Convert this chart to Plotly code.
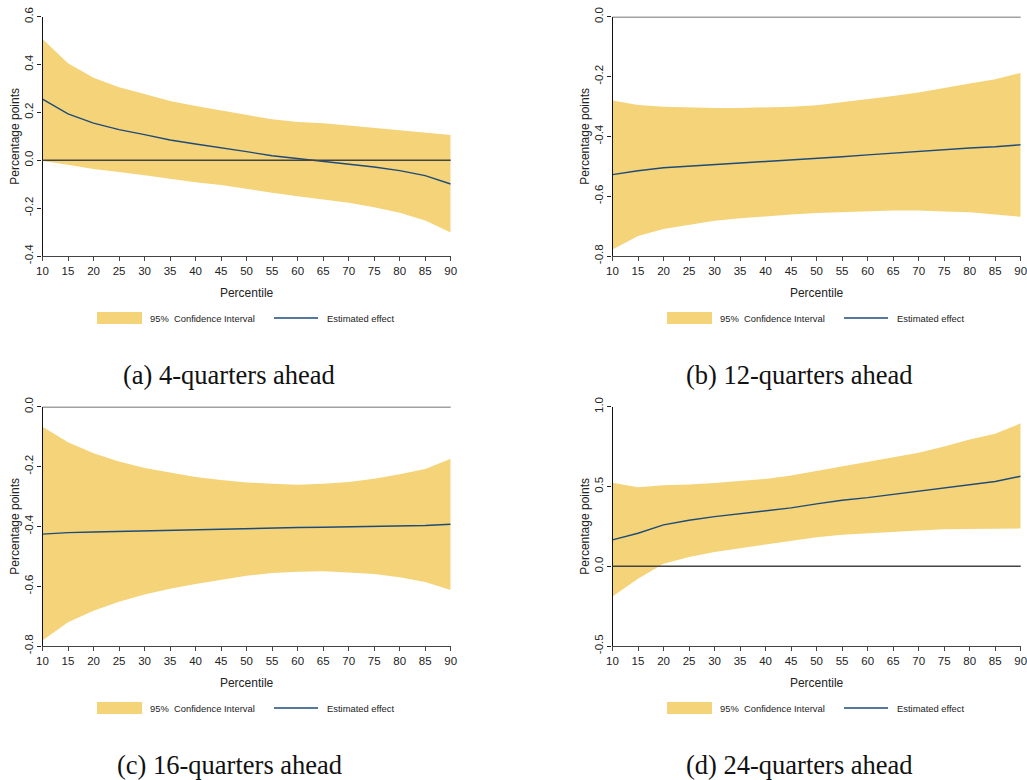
import plotly.graph_objects as go

W, H = 1027, 780

percentile = [10, 15, 20, 25, 30, 35, 40, 45, 50, 55, 60, 65, 70, 75, 80, 85, 90]

# (a) 4-quarters ahead
a_upper = [0.507, 0.405, 0.345, 0.305, 0.277, 0.248, 0.227, 0.209, 0.188, 0.171, 0.160, 0.155, 0.145, 0.135, 0.128, 0.118, 0.106]
a_effect = [0.256, 0.194, 0.155, 0.128, 0.107, 0.085, 0.068, 0.053, 0.036, 0.019, 0.007, -0.003, -0.014, -0.028, -0.043, -0.064, -0.099]
a_lower = [-0.003, -0.019, -0.036, -0.049, -0.063, -0.079, -0.092, -0.103, -0.121, -0.136, -0.150, -0.162, -0.177, -0.196, -0.219, -0.252, -0.302]

# (b) 12-quarters ahead
b_upper = [-0.280, -0.295, -0.301, -0.304, -0.305, -0.305, -0.303, -0.301, -0.296, -0.286, -0.276, -0.265, -0.253, -0.237, -0.223, -0.209, -0.188]
b_effect = [-0.528, -0.515, -0.505, -0.499, -0.494, -0.489, -0.484, -0.479, -0.475, -0.468, -0.462, -0.456, -0.450, -0.445, -0.439, -0.435, -0.428]
b_lower = [-0.778, -0.733, -0.710, -0.696, -0.682, -0.674, -0.667, -0.661, -0.656, -0.652, -0.650, -0.648, -0.648, -0.651, -0.654, -0.661, -0.669]

# (c) 16-quarters ahead
c_upper = [-0.067, -0.119, -0.156, -0.183, -0.205, -0.221, -0.235, -0.245, -0.253, -0.258, -0.261, -0.258, -0.252, -0.241, -0.226, -0.208, -0.174]
c_effect = [-0.426, -0.421, -0.419, -0.417, -0.414, -0.412, -0.411, -0.409, -0.408, -0.406, -0.404, -0.403, -0.402, -0.400, -0.399, -0.397, -0.393]
c_lower = [-0.782, -0.721, -0.682, -0.652, -0.628, -0.609, -0.593, -0.578, -0.565, -0.556, -0.552, -0.550, -0.554, -0.559, -0.570, -0.586, -0.613]

# (d) 24-quarters ahead
d_upper = [0.524, 0.495, 0.508, 0.512, 0.522, 0.535, 0.547, 0.568, 0.597, 0.627, 0.652, 0.683, 0.712, 0.750, 0.794, 0.831, 0.896]
d_effect = [0.165, 0.207, 0.259, 0.288, 0.311, 0.330, 0.347, 0.366, 0.391, 0.414, 0.430, 0.451, 0.470, 0.491, 0.514, 0.531, 0.564]
d_lower = [-0.190, -0.079, 0.015, 0.058, 0.090, 0.115, 0.138, 0.159, 0.182, 0.198, 0.207, 0.215, 0.224, 0.232, 0.236, 0.234, 0.236]

captions = ["(a) 4-quarters ahead", "(b) 12-quarters ahead",
            "(c) 16-quarters ahead", "(d) 24-quarters ahead"]

a_ticks = [-0.4, -0.2, 0.0, 0.2, 0.4, 0.6]
b_ticks = [-0.8, -0.6, -0.4, -0.2, 0.0]
c_ticks = [-0.8, -0.6, -0.4, -0.2, 0.0]
d_ticks = [-0.5, 0.0, 0.5, 1.0]
x_ticks = percentile

ci_label = "95%\u00a0\u00a0Confidence Interval"
effect_label = "Estimated effect"
x_title = "Percentile"
y_title = "Percentage points"

FILL = "#F4D379"
LINE = "#1F4B78"
SANS = "Liberation Sans, Arial, sans-serif"
SERIF = "Liberation Serif, Times New Roman, serif"

panels = [
    (a_upper, a_effect, a_lower, a_ticks),
    (b_upper, b_effect, b_lower, b_ticks),
    (c_upper, c_effect, c_lower, c_ticks),
    (d_upper, d_effect, d_lower, d_ticks),
]

# pixel geometry of each plotting area: (left, right, top, bottom)
boxes = [
    (42.5, 450.7, 16.7, 256.0),
    (612.5, 1020.7, 16.7, 256.0),
    (42.5, 450.7, 406.7, 646.0),
    (612.5, 1020.7, 406.7, 646.0),
]


def fmt(v):
    return f"{v:.1f}".replace("-0.0", "0.0")


fig = go.Figure()
shapes = []
annotations = []

for i, ((up, est, lo, yt), (l, r, t, b)) in enumerate(zip(panels, boxes)):
    n = "" if i == 0 else str(i + 1)
    xa, ya = "x" + n, "y" + n

    fig.add_trace(go.Scatter(
        x=percentile + percentile[::-1], y=up + lo[::-1],
        fill="toself", fillcolor=FILL, mode="lines", line=dict(width=0),
        hoverinfo="skip", showlegend=False, xaxis=xa, yaxis=ya))
    fig.add_trace(go.Scatter(
        x=percentile, y=est, mode="lines",
        line=dict(color=LINE, width=1.4),
        showlegend=False, xaxis=xa, yaxis=ya))

    axis_font = dict(family=SANS, size=11.5, color="#222")
    fig.layout["xaxis" + n] = dict(
        domain=[l / W, r / W], anchor=ya, range=[10, 90], automargin=False,
        tickvals=x_ticks, ticktext=[str(v) for v in x_ticks],
        ticklabeloverflow="allow",
        ticks="outside", ticklen=4, tickcolor="#444", tickwidth=1,
        showline=True, linecolor="#444", linewidth=1,
        showgrid=False, zeroline=False, tickfont=axis_font,
        title=dict(text=x_title, font=dict(family=SANS, size=12, color="#222"), standoff=12),
    )
    fig.layout["yaxis" + n] = dict(
        domain=[1 - b / H, 1 - t / H], anchor=xa, range=[yt[0], yt[-1]], automargin=False,
        tickvals=yt, ticktext=[fmt(v) for v in yt], tickangle=-90,
        ticklabeloverflow="allow",
        ticks="outside", ticklen=4, tickcolor="#222", tickwidth=1,
        showline=True, linecolor="#111", linewidth=1.2,
        showgrid=False, zeroline=False, tickfont=axis_font,
        title=dict(text=y_title, font=dict(family=SANS, size=12, color="#222"), standoff=0),
    )

    # horizontal reference line at zero
    shapes.append(dict(type="line", xref=xa + " domain", yref=ya,
                       x0=0, x1=1, y0=0, y1=0,
                       line=dict(color="#444", width=1.5), layer="above"))

    # legend row below each panel
    dx = l - 42.5
    ly = b + 62
    shapes.append(dict(type="rect", xref="paper", yref="paper",
                       x0=(dx + 97) / W, x1=(dx + 142) / W,
                       y0=1 - (ly + 6) / H, y1=1 - (ly - 6) / H,
                       fillcolor=FILL, line=dict(width=0)))
    annotations.append(dict(text=ci_label, xref="paper", yref="paper",
                            x=(dx + 148) / W, y=1 - ly / H,
                            xanchor="left", yanchor="middle", showarrow=False,
                            font=dict(family=SANS, size=9.4, color="#222")))
    shapes.append(dict(type="line", xref="paper", yref="paper",
                       x0=(dx + 274) / W, x1=(dx + 318) / W,
                       y0=1 - ly / H, y1=1 - ly / H,
                       line=dict(color=LINE, width=1.4)))
    annotations.append(dict(text=effect_label, xref="paper", yref="paper",
                            x=(dx + 325) / W, y=1 - ly / H,
                            xanchor="left", yanchor="middle", showarrow=False,
                            font=dict(family=SANS, size=9.4, color="#222")))

    # caption
    annotations.append(dict(text=captions[i], xref="paper", yref="paper",
                            x=(dx + 229) / W, y=1 - (b + 119) / H,
                            xanchor="center", yanchor="middle", showarrow=False,
                            font=dict(family=SERIF, size=26.5, color="#111")))

fig.update_layout(
    width=W, height=H,
    margin=dict(l=0, r=0, t=0, b=0, autoexpand=False),
    paper_bgcolor="white", plot_bgcolor="white",
    shapes=shapes, annotations=annotations,
    showlegend=False,
)

fig.write_html("out.html")
